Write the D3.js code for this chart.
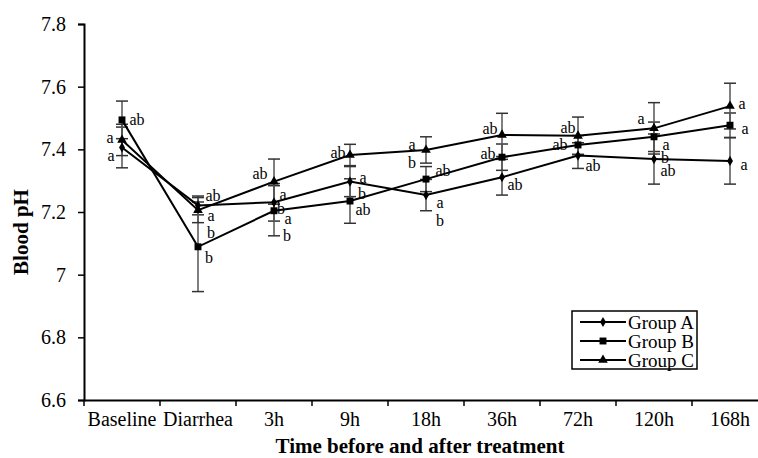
<!DOCTYPE html>
<html>
<head>
<meta charset="utf-8">
<script src="https://cdn.jsdelivr.net/npm/d3@7"></script>
<style>
  body { margin: 0; background: #fff; }
  svg text { font-family: "Times New Roman", "Liberation Serif", "DejaVu Serif", serif; fill: #000; }
</style>
</head>
<body>
<div id="chart"></div>
<script>
// categories and values
const categories = ["Baseline", "Diarrhea", "3h", "9h", "18h", "36h", "72h", "120h", "168h"];
const groupNames = ["Group A", "Group B", "Group C"];

const meanA = [7.406, 7.221, 7.231, 7.297, 7.254, 7.311, 7.380, 7.369, 7.363];
const meanB = [7.494, 7.089, 7.204, 7.235, 7.305, 7.375, 7.414, 7.440, 7.477];
const meanC = [7.430, 7.206, 7.297, 7.382, 7.398, 7.446, 7.443, 7.467, 7.538];

const sdA = [0.065, 0.030, 0.060, 0.048, 0.050, 0.057, 0.041, 0.080, 0.074];
const sdB = [0.060, 0.143, 0.080, 0.071, 0.040, 0.042, 0.030, 0.047, 0.039];
const sdC = [0.050, 0.040, 0.072, 0.034, 0.042, 0.069, 0.060, 0.082, 0.073];

const yTicks = [6.6, 6.8, 7.0, 7.2, 7.4, 7.6, 7.8];

// significance letters: [group index, category index, text, dx, dy]
const letters = [
  [1, 0, "ab", 15, 0], [2, 0, "a", -12, -2], [0, 0, "a", -11, 8],
  [0, 1, "ab", 15, -10], [2, 1, "a", 13, 5], [1, 1, "b", 13, -14], [1, 1, "b", 11, 11],
  [2, 2, "ab", -14, -8], [0, 2, "a", 9, -8], [1, 2, "b", 7, -2], [1, 2, "a", 14, 8], [1, 2, "b", 13, 25],
  [2, 3, "ab", -12, -2], [0, 3, "a", 13, -4], [1, 3, "b", 12, -8], [1, 3, "ab", 13, 8],
  [2, 4, "a", -14, -5], [2, 4, "b", -14, 13], [1, 4, "ab", 17, -9], [0, 4, "a", 14, 7], [0, 4, "b", 14, 25],
  [2, 5, "ab", -12, -6], [1, 5, "ab", -14, -4], [0, 5, "ab", 13, 7],
  [2, 6, "ab", -10, -8], [1, 6, "ab", -18, 0], [0, 6, "ab", 15, 10],
  [2, 7, "a", -13, -10], [1, 7, "a", 12, 8], [0, 7, "b", 11, -2], [0, 7, "ab", 14, 11],
  [2, 8, "a", 12, -3], [1, 8, "a", 15, 3], [0, 8, "a", 14, 4]
];

const width = 758, height = 458;
const margin = { left: 84, top: 24, bottom: 58 };

const svg = d3.select("#chart").append("svg")
    .attr("width", width)
    .attr("height", height);

svg.append("rect").attr("width", width).attr("height", height).attr("fill", "#fff");

// band scale runs past the right edge, the figure is cropped there
const x = d3.scaleBand()
    .domain(categories)
    .range([margin.left, margin.left + 76 * categories.length])
    .padding(0);

const y = d3.scaleLinear()
    .domain([6.6, 7.8])
    .range([height - margin.bottom, margin.top]);

const cx = c => x(c) + x.bandwidth() / 2;

const series = [
  { name: groupNames[0], mean: meanA, sd: sdA, symbol: d3.symbolDiamond, size: 30 },
  { name: groupNames[1], mean: meanB, sd: sdB, symbol: d3.symbolSquare, size: 48 },
  { name: groupNames[2], mean: meanC, sd: sdC, symbol: d3.symbolTriangle, size: 40 }
];

// y axis
const yAxis = svg.append("g")
    .attr("transform", `translate(${margin.left},0)`)
    .call(d3.axisLeft(y).tickValues(yTicks).tickSize(6).tickPadding(12)
        .tickFormat(d => String(+d.toFixed(1))));
yAxis.attr("font-family", null);
yAxis.select(".domain").attr("stroke", "#000").attr("stroke-width", 2);
yAxis.selectAll(".tick line").attr("stroke", "#000").attr("stroke-width", 1.5);
yAxis.selectAll(".tick text").style("font-size", "20px");

// x axis: labels at band centres, ticks at band edges
const xAxis = svg.append("g")
    .attr("transform", `translate(0,${y(6.6)})`)
    .call(d3.axisBottom(x).tickSize(0).tickPadding(12));
xAxis.attr("font-family", null);
xAxis.select(".domain").attr("stroke", "#000").attr("stroke-width", 2);
xAxis.selectAll(".tick text").style("font-size", "20px");
xAxis.selectAll(".edge")
    .data(categories)
    .enter().append("line")
    .attr("class", "edge")
    .attr("x1", d => x(d)).attr("x2", d => x(d))
    .attr("y1", 0).attr("y2", 6)
    .attr("stroke", "#000").attr("stroke-width", 1.5);

// axis titles
svg.append("text")
    .attr("transform", `translate(28,${(y(6.6) + y(7.8)) / 2 + 20}) rotate(-90)`)
    .attr("text-anchor", "middle")
    .style("font-size", "21px")
    .style("font-weight", "bold")
    .text("Blood pH");

svg.append("text")
    .attr("x", 420)
    .attr("y", 453)
    .attr("text-anchor", "middle")
    .style("font-size", "21px")
    .style("font-weight", "bold")
    .text("Time before and after treatment");

// error bars
const errG = svg.append("g");
series.forEach(s => {
  categories.forEach((c, i) => {
    const lo = y(s.mean[i] - s.sd[i]), hi = y(s.mean[i] + s.sd[i]);
    errG.append("line")
        .attr("x1", cx(c)).attr("x2", cx(c))
        .attr("y1", lo).attr("y2", hi)
        .attr("stroke", "#555").attr("stroke-width", 1.5);
    [lo, hi].forEach(v => {
      errG.append("line")
          .attr("x1", cx(c) - 6).attr("x2", cx(c) + 6)
          .attr("y1", v).attr("y2", v)
          .attr("stroke", "#333").attr("stroke-width", 1.5);
    });
  });
});

// lines and markers
const line = d3.line()
    .x((d, i) => cx(categories[i]))
    .y(d => y(d));

series.forEach(s => {
  svg.append("path")
      .datum(s.mean)
      .attr("d", line)
      .attr("fill", "none")
      .attr("stroke", "#000")
      .attr("stroke-width", 2);

  svg.append("g").selectAll("path")
      .data(s.mean)
      .enter().append("path")
      .attr("d", d3.symbol().type(s.symbol).size(s.size))
      .attr("transform", (d, i) => `translate(${cx(categories[i])},${y(d)})`)
      .attr("fill", "#000");
});

// significance letters
svg.append("g").selectAll("text")
    .data(letters)
    .enter().append("text")
    .attr("x", d => cx(categories[d[1]]) + d[3])
    .attr("y", d => y(series[d[0]].mean[d[1]]) + d[4])
    .attr("text-anchor", "middle")
    .attr("dominant-baseline", "central")
    .style("font-size", "16px")
    .text(d => d[2]);

// legend
const legend = svg.append("g").attr("transform", "translate(572,311)");
legend.append("rect")
    .attr("width", 125).attr("height", 58)
    .attr("fill", "#fff").attr("stroke", "#000").attr("stroke-width", 1.5);

series.forEach((s, i) => {
  const ly = 11 + i * 19;
  legend.append("line")
      .attr("x1", 8).attr("x2", 54)
      .attr("y1", ly).attr("y2", ly)
      .attr("stroke", "#000").attr("stroke-width", 2);
  legend.append("path")
      .attr("d", d3.symbol().type(s.symbol).size(s.size))
      .attr("transform", `translate(31,${ly})`)
      .attr("fill", "#000");
  legend.append("text")
      .attr("x", 56)
      .attr("y", ly)
      .attr("dominant-baseline", "central")
      .style("font-size", "19px")
      .text(s.name);
});
</script>
</body>
</html>
